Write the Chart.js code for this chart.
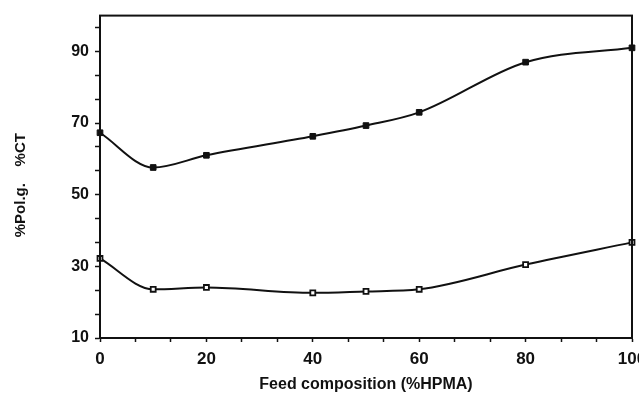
<!DOCTYPE html>
<html>
<head>
<meta charset="utf-8">
<script src="https://cdn.jsdelivr.net/npm/chart.js@4/dist/chart.umd.min.js"></script>
<style>
  html, body { margin: 0; padding: 0; background: #fff; overflow: hidden; }
  #wrap { position: relative; width: 660px; height: 394px; }
</style>
</head>
<body>
<div id="wrap"><canvas id="chart"></canvas></div>
<script>
// Feed composition (%HPMA)
const feedComposition = [0, 10, 20, 40, 50, 60, 80, 100];
// %Pol.g. (filled squares, upper curve)
const polGraft = [67.3, 57.6, 61.0, 66.3, 69.3, 73.0, 87.0, 91.0];
// %CT (open squares, lower curve)
const ctValues = [32.2, 23.6, 24.1, 22.6, 23.0, 23.6, 30.5, 36.7];

const xTickLabels = [0, 20, 40, 60, 80, 100];
const yTickLabels = [10, 30, 50, 70, 90];

const ink = '#111';
const family = '"Liberation Sans", Arial, sans-serif';

// major ticks from the label arrays, two unlabelled minor ticks in between
function withMinors(majors, max) {
    const step = (majors[1] - majors[0]) / 3;
    const out = [];
    for (let k = 0; majors[0] + k * step <= max + 1e-6; k++) {
        if (k % 3 === 0) out.push({ value: majors[k / 3], label: String(majors[k / 3]) });
        else out.push({ value: majors[0] + k * step, label: '' });
    }
    return out;
}

// closes the box on the top and right
const frame = {
    id: 'frame',
    afterDraw(chart) {
        const { ctx, chartArea: a } = chart;
        ctx.save();
        ctx.strokeStyle = ink;
        ctx.lineWidth = 2;
        ctx.strokeRect(a.left, a.top, a.right - a.left, a.bottom - a.top);
        ctx.restore();
    }
};

Chart.defaults.color = ink;
Chart.defaults.font.family = family;

new Chart(document.getElementById('chart'), {
    type: 'line',
    data: {
        datasets: [
            {
                label: '%Pol.g.',
                data: feedComposition.map((x, i) => ({ x: x, y: polGraft[i] })),
                borderColor: ink,
                borderWidth: 2,
                backgroundColor: ink,
                pointStyle: 'rect',
                pointRadius: 4,
                pointBorderWidth: 1,
                cubicInterpolationMode: 'monotone'
            },
            {
                label: '%CT',
                data: feedComposition.map((x, i) => ({ x: x, y: ctValues[i] })),
                borderColor: ink,
                borderWidth: 2,
                pointBackgroundColor: '#fff',
                pointBorderColor: ink,
                pointStyle: 'rect',
                pointRadius: 3.5,
                pointBorderWidth: 1.8,
                cubicInterpolationMode: 'monotone'
            }
        ]
    },
    options: {
        responsive: true,
        maintainAspectRatio: false,
        animation: false,
        clip: false,
        layout: { padding: { top: 15, right: 28, bottom: 0, left: 0 } },
        plugins: { legend: { display: false }, tooltip: { enabled: false } },
        scales: {
            x: {
                type: 'linear',
                min: 0,
                max: 100,
                afterBuildTicks: s => { s.ticks = withMinors(xTickLabels, 100); },
                afterFit: s => { s.height = 56; },
                ticks: {
                    autoSkip: false,
                    maxRotation: 0,
                    padding: 7,
                    font: { family: family, weight: 'bold', size: 17 },
                    color: ink,
                    callback: (v, i, t) => t[i].label
                },
                grid: { drawOnChartArea: false, tickLength: 4, tickColor: ink, tickWidth: 1.5 },
                border: { display: true, color: ink, width: 2 },
                title: {
                    display: true,
                    text: 'Feed composition (%HPMA)',
                    color: ink,
                    font: { family: family, weight: 'bold', size: 16 },
                    padding: { top: 2, bottom: 0 }
                }
            },
            y: {
                type: 'linear',
                min: 10,
                max: 100,
                afterBuildTicks: s => { s.ticks = withMinors(yTickLabels, 100); },
                afterFit: s => { s.width = 100; },
                ticks: {
                    autoSkip: false,
                    padding: 6,
                    font: { family: family, weight: 'bold', size: 16 },
                    color: ink,
                    callback: (v, i, t) => t[i].label
                },
                grid: { drawOnChartArea: false, tickLength: 5, tickColor: ink, tickWidth: 1.5 },
                border: { display: true, color: ink, width: 2 },
                title: {
                    display: true,
                    text: '%Pol.g.    %CT    ',
                    color: ink,
                    font: { family: family, weight: 'bold', size: 15 },
                    padding: { top: 12, bottom: 0 }
                }
            }
        }
    },
    plugins: [frame]
});
</script>
</body>
</html>
